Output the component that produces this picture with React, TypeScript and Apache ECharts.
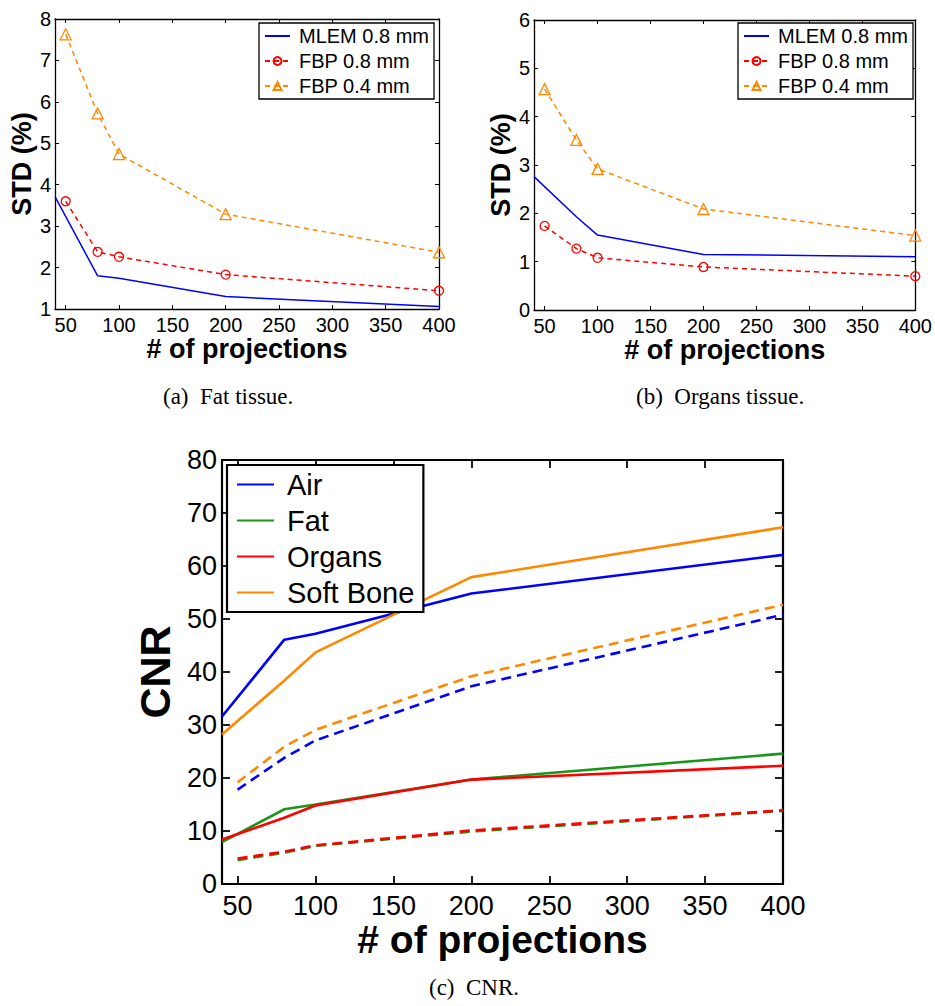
import React, { useEffect, useRef } from "react";
import * as echarts from "echarts";

// ---- data ----
const xTicks = [50, 100, 150, 200, 250, 300, 350, 400];
const mlemX = [40, 80, 100, 200, 400];
const fbpX = [50, 80, 100, 200, 400];

// (a) Fat tissue STD (%)
const fatMLEM08 = [3.71, 1.8, 1.74, 1.3, 1.06];
const fatFBP08 = [3.6, 2.38, 2.26, 1.83, 1.44];
const fatFBP04 = [7.63, 5.72, 4.74, 3.29, 2.37];

// (b) Organs tissue STD (%)
const orgMLEM08 = [2.76, 1.93, 1.55, 1.15, 1.1];
const orgFBP08 = [1.74, 1.27, 1.08, 0.89, 0.7];
const orgFBP04 = [4.57, 3.52, 2.92, 2.09, 1.54];

// (c) CNR
const cnrSolidX = [40, 80, 100, 200, 400];
const cnrDashedX = [50, 80, 100, 200, 400];
const airSolid = [31.6, 46.1, 47.2, 54.8, 62.1];
const fatSolid = [7.9, 14.1, 15.0, 19.7, 24.6];
const organsSolid = [8.4, 12.5, 14.8, 19.7, 22.3];
const boneSolid = [28.2, 38.4, 43.7, 57.9, 67.3];
const airDashed = [17.8, 23.8, 27.1, 37.3, 50.8];
const fatDashed = [4.5, 5.9, 7.2, 9.9, 13.8];
const organsDashed = [4.8, 6.1, 7.3, 10.1, 13.9];
const boneDashed = [19.2, 25.9, 29.1, 39.2, 52.7];

const stdLegend = ["MLEM 0.8 mm", "FBP 0.8 mm", "FBP 0.4 mm"];
const cnrLegend = ["Air", "Fat", "Organs", "Soft Bone"];
const captions = ["(a)  Fat tissue.", "(b)  Organs tissue.", "(c)  CNR."];

const BLUE = "#0000ff";
const RED = "#ff0000";
const ORANGE = "#ff8800";
const GREEN = "#1a961a";
const SANS = "Liberation Sans, Arial, sans-serif";
const SERIF = "Liberation Serif, Times New Roman, serif";

const zip = (xs: number[], ys: number[]) => xs.map((x, i) => [x, ys[i]]);

function xAxes(gi: number, fs: number, tickLen: number, lw: number, nameFs: number, nameGap: number, margin: number) {
  return [
    {
      type: "value",
      gridIndex: gi,
      min: 40,
      max: 400,
      position: "bottom",
      name: "# of projections",
      nameLocation: "middle",
      nameGap,
      nameTextStyle: { fontFamily: SANS, fontWeight: "bold", fontSize: nameFs, color: "#000" },
      axisLine: { onZero: false, lineStyle: { color: "#000", width: lw } },
      axisTick: { inside: true, length: tickLen, customValues: xTicks, lineStyle: { color: "#000", width: lw * 0.8 } },
      axisLabel: { customValues: xTicks, fontFamily: SANS, fontSize: fs, color: "#000", margin },
      splitLine: { show: false },
    },
    {
      type: "value",
      gridIndex: gi,
      min: 40,
      max: 400,
      position: "top",
      axisLine: { onZero: false, lineStyle: { color: "#000", width: lw } },
      axisTick: { inside: true, length: tickLen, customValues: xTicks, lineStyle: { color: "#000", width: lw * 0.8 } },
      axisLabel: { show: false },
      splitLine: { show: false },
    },
  ];
}

function yAxes(gi: number, min: number, max: number, interval: number, name: string, fs: number, tickLen: number, lw: number, nameFs: number, nameGap: number, margin: number) {
  return [
    {
      type: "value",
      gridIndex: gi,
      min,
      max,
      interval,
      position: "left",
      name,
      nameLocation: "middle",
      nameGap,
      nameTextStyle: { fontFamily: SANS, fontWeight: "bold", fontSize: nameFs, color: "#000" },
      axisLine: { onZero: false, lineStyle: { color: "#000", width: lw } },
      axisTick: { inside: true, length: tickLen, lineStyle: { color: "#000", width: lw * 0.8 } },
      axisLabel: { fontFamily: SANS, fontSize: fs, color: "#000", margin },
      splitLine: { show: false },
    },
    {
      type: "value",
      gridIndex: gi,
      min,
      max,
      interval,
      position: "right",
      axisLine: { onZero: false, lineStyle: { color: "#000", width: lw } },
      axisTick: { inside: true, length: tickLen, lineStyle: { color: "#000", width: lw * 0.8 } },
      axisLabel: { show: false },
      splitLine: { show: false },
    },
  ];
}

function stdSeries(axisIdx: number, mlem: number[], fbp08: number[], fbp04: number[]) {
  return [
    {
      type: "line",
      name: stdLegend[0],
      xAxisIndex: axisIdx,
      yAxisIndex: axisIdx,
      data: zip(mlemX, mlem),
      showSymbol: false,
      symbol: "none",
      lineStyle: { color: BLUE, width: 1.5, opacity: 1 },
      itemStyle: { color: BLUE, opacity: 0 },
    },
    {
      type: "line",
      name: stdLegend[1],
      xAxisIndex: axisIdx,
      yAxisIndex: axisIdx,
      data: zip(fbpX, fbp08),
      symbol: "circle",
      symbolSize: 9,
      lineStyle: { color: RED, width: 1.5, type: [5, 4] },
      itemStyle: { color: "rgba(0,0,0,0)", borderColor: RED, borderWidth: 1.3 },
    },
    {
      type: "line",
      name: stdLegend[2],
      xAxisIndex: axisIdx,
      yAxisIndex: axisIdx,
      data: zip(fbpX, fbp04),
      symbol: "triangle",
      symbolSize: 11,
      lineStyle: { color: ORANGE, width: 1.5, type: [5, 4] },
      itemStyle: { color: "rgba(0,0,0,0)", borderColor: ORANGE, borderWidth: 1.3 },
    },
  ];
}

function cnrLine(name: string, xs: number[], ys: number[], color: string, dashed: boolean) {
  return {
    type: "line",
    name,
    xAxisIndex: 4,
    yAxisIndex: 4,
    data: zip(xs, ys),
    showSymbol: false,
    symbol: "none",
    lineStyle: { color, width: 2.6, opacity: 1, type: dashed ? [10, 6] : "solid" },
    itemStyle: { color, opacity: 0 },
  };
}

function stdLegendOpt(left: number, top: number) {
  return {
    orient: "vertical",
    left,
    top,
    padding: [3, 5, 3, 5],
    itemGap: 5,
    itemWidth: 25,
    itemHeight: 10,
    borderColor: "#000",
    borderWidth: 1.3,
    backgroundColor: "#fff",
    selectedMode: false,
    textStyle: { fontFamily: SANS, fontSize: 20, lineHeight: 20, color: "#000", padding: [0, 0, 0, 4] },
    data: stdLegend,
  };
}

export default function App() {
  const ref = useRef<HTMLDivElement>(null);
  useEffect(() => {
    if (!ref.current) return;
    const chart = echarts.init(ref.current, undefined, { renderer: "svg" });
    const option = {
      animation: false,
      backgroundColor: "#fff",
      grid: [
        { left: 55, top: 19, width: 384, height: 290 },
        { left: 534, top: 20, width: 383, height: 290 },
        { left: 222, top: 460, width: 561, height: 424 },
      ],
      xAxis: [
        ...xAxes(0, 20, 4, 1.3, 27, 24, 6),
        ...xAxes(1, 20, 4, 1.3, 27, 24, 6),
        ...xAxes(2, 27, 8, 2.2, 39, 36, 8),
      ],
      yAxis: [
        ...yAxes(0, 1, 8, 1, "STD (%)", 20, 4, 1.3, 27, 19, 4),
        ...yAxes(1, 0, 6, 1, "STD (%)", 20, 4, 1.3, 27, 19, 4),
        ...yAxes(2, 0, 80, 10, "CNR", 27, 8, 2.2, 43, 43, 5),
      ],
      legend: [
        stdLegendOpt(259, 23),
        stdLegendOpt(738, 23),
        {
          orient: "vertical",
          left: 227,
          top: 465,
          padding: [5, 9, 5, 9],
          itemGap: 7,
          itemWidth: 37,
          itemHeight: 12,
          borderColor: "#000",
          borderWidth: 2.2,
          backgroundColor: "#fff",
          selectedMode: false,
          textStyle: { fontFamily: SANS, fontSize: 29, lineHeight: 29, color: "#000", padding: [0, 0, 0, 8] },
          data: cnrLegend,
        },
      ],
      series: [
        ...stdSeries(0, fatMLEM08, fatFBP08, fatFBP04),
        ...stdSeries(2, orgMLEM08, orgFBP08, orgFBP04),
        cnrLine(cnrLegend[0], cnrSolidX, airSolid, BLUE, false),
        cnrLine(cnrLegend[1], cnrSolidX, fatSolid, GREEN, false),
        cnrLine(cnrLegend[2], cnrSolidX, organsSolid, RED, false),
        cnrLine(cnrLegend[3], cnrSolidX, boneSolid, ORANGE, false),
        cnrLine("Air FBP", cnrDashedX, airDashed, BLUE, true),
        cnrLine("Fat FBP", cnrDashedX, fatDashed, GREEN, true),
        cnrLine("Organs FBP", cnrDashedX, organsDashed, RED, true),
        cnrLine("Soft Bone FBP", cnrDashedX, boneDashed, ORANGE, true),
      ],
      graphic: [
        { type: "text", left: 163, top: 385, style: { text: captions[0], font: `23px ${SERIF}`, fill: "#000" } },
        { type: "text", left: 636, top: 385, style: { text: captions[1], font: `23px ${SERIF}`, fill: "#000" } },
        { type: "text", left: 429, top: 976, style: { text: captions[2], font: `23px ${SERIF}`, fill: "#000" } },
      ],
    };
    chart.setOption(option as any);
    return () => chart.dispose();
  }, []);
  return (
    <div
      ref={ref}
      style={{ position: "fixed", left: 0, top: 0, width: 935, height: 1006, background: "#fff" }}
    />
  );
}
